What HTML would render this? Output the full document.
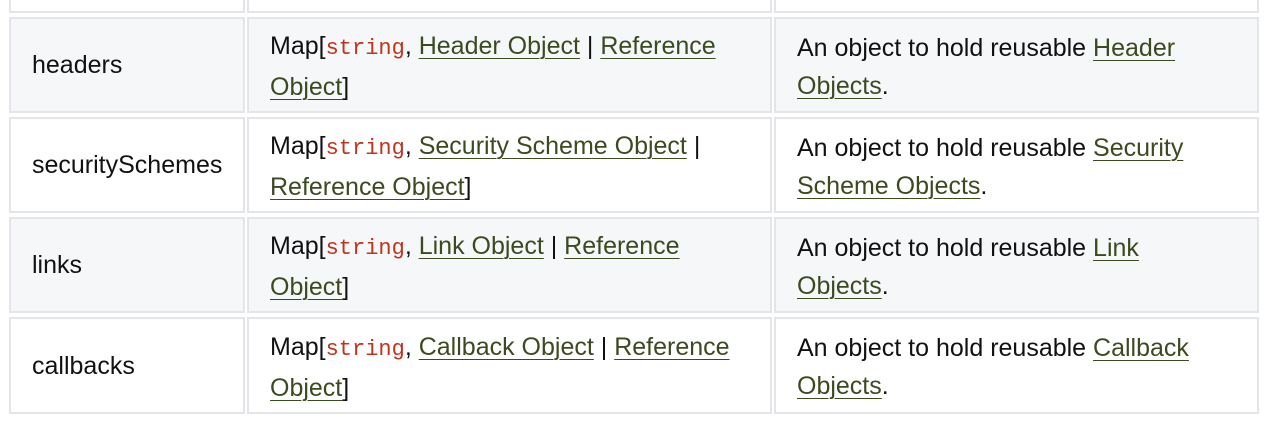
<!DOCTYPE html>
<html><head><style>
body{margin:0;width:1270px;height:439px;background:#fff;overflow:hidden;font-family:"Liberation Sans",Arial,sans-serif;font-size:25px;color:#111;}
.c{position:absolute;box-sizing:border-box;border:2px solid #e3e5e8;display:flex;align-items:center;white-space:nowrap;line-height:38px;}
.c>div{padding-top:3px}
.g{background:#f6f7f9}
.c1{left:9px;width:236px;padding-left:21px}
.c2{left:247px;width:525px;padding-left:21px}
.c3{left:774px;width:485px;padding-left:21px}
a{color:#3c4a20;text-decoration:underline;text-decoration-thickness:1px;text-underline-offset:4px}
code{font-family:"Liberation Mono",monospace;font-size:22px;color:#c0341d}
</style></head><body>
<div class="c c1" style="top:-10px;height:23px"></div>
<div class="c c2" style="top:-10px;height:23px"></div>
<div class="c c3" style="top:-10px;height:23px"></div>

<div class="c c1 g" style="top:17px;height:96px">headers</div>
<div class="c c2 g" style="top:17px;height:96px"><div>Map[<code>string</code>, <a>Header Object</a> | <a>Reference</a><br><a>Object</a>]</div></div>
<div class="c c3 g" style="top:17px;height:96px"><div>An object to hold reusable <a>Header</a><br><a>Objects</a>.</div></div>

<div class="c c1" style="top:117px;height:96px">securitySchemes</div>
<div class="c c2" style="top:117px;height:96px"><div>Map[<code>string</code>, <a>Security Scheme Object</a> |<br><a>Reference Object</a>]</div></div>
<div class="c c3" style="top:117px;height:96px"><div>An object to hold reusable <a>Security</a><br><a>Scheme Objects</a>.</div></div>

<div class="c c1 g" style="top:217px;height:96px">links</div>
<div class="c c2 g" style="top:217px;height:96px"><div>Map[<code>string</code>, <a>Link Object</a> | <a>Reference</a><br><a>Object</a>]</div></div>
<div class="c c3 g" style="top:217px;height:96px"><div>An object to hold reusable <a>Link</a><br><a>Objects</a>.</div></div>

<div class="c c1" style="top:317px;height:97px">callbacks</div>
<div class="c c2" style="top:317px;height:97px"><div>Map[<code>string</code>, <a>Callback Object</a> | <a>Reference</a><br><a>Object</a>]</div></div>
<div class="c c3" style="top:317px;height:97px"><div>An object to hold reusable <a>Callback</a><br><a>Objects</a>.</div></div>
</body></html>
